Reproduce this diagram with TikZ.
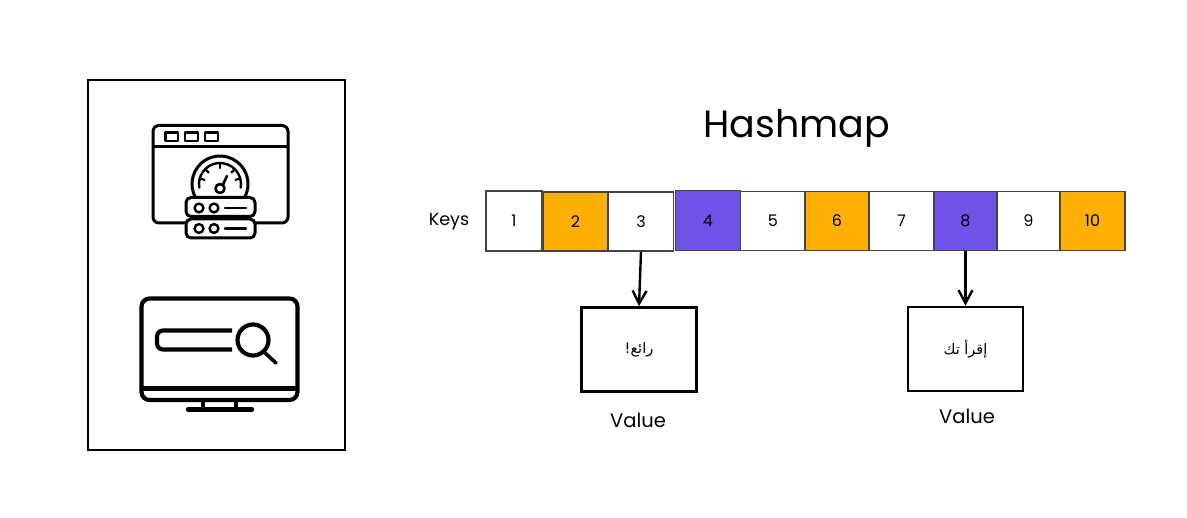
\documentclass[tikz,border=0pt]{standalone}
\usepackage{fontspec}
\setmainfont{Poppins}
\newfontfamily\arabicfont[Script=Arabic]{DejaVu Sans}
\TeXXeTstate=1
\usetikzlibrary{arrows.meta}
\definecolor{amber}{HTML}{FFB006}
\definecolor{violet}{HTML}{7152E8}
\definecolor{cellline}{HTML}{444444}
\tikzset{
  cellbox/.style={draw=cellline,line width=1.3pt,inner sep=0pt,font=\fontsize{16}{18}\selectfont,text=black},
  valbox/.style={draw=black,line width=2.6pt,inner sep=0pt,minimum width=115pt,minimum height=84pt,font=\fontsize{14.5}{16}\selectfont},
  hand/.style={inner sep=0pt,text=black},
  pointer/.style={draw=black,line width=2.4pt,-{Straight Barb[length=13pt,width=14pt,line width=2.4pt]}},
  icon/.style={draw=black,line width=3pt,line cap=round,line join=round},
  iconthick/.style={draw=black,line width=4.2pt,line cap=round,line join=round},
  frame/.style={draw=black,line width=1.6pt,inner sep=0pt,minimum width=257pt,minimum height=370pt}
}
\begin{document}
\begin{tikzpicture}[x=1pt,y=-1pt]
\useasboundingbox (0,0) rectangle (1187,518);

\node[frame] (panel) at (216.5,265) {};

% window with gauge
\draw[icon,rounded corners=6pt] (153,125.5) rectangle (288,223);
\draw[icon] (153,147) -- (288,147);
\draw[icon,line width=2.6pt] (165.5,132.5) rectangle (178,141);
\draw[icon,line width=2.6pt] (185,132.5) rectangle (198,141);
\draw[icon,line width=2.6pt] (205,132.5) rectangle (218,141);
% gauge
\fill[white] (220,184) circle (28);
\draw[icon] (220,184) ++(150:28) arc[start angle=150,end angle=390,radius=28];
\draw[icon,line width=2.4pt] (220,184) ++(170:21) arc[start angle=170,end angle=370,radius=21];
\foreach \a in {195,225,270,315,345}{
  \draw[icon,line width=2.2pt] (220,184) ++(\a:21) -- ++(\a:-5);
}
\draw[icon,line width=2.6pt] (220,188.5) circle (4.5);
\draw[icon,line width=2.6pt] (223,184.5) -- (227,176);
% servers
\draw[icon,fill=white,rounded corners=5pt] (186,197.5) rectangle (255,216.5);
\draw[icon,fill=white,rounded corners=5pt] (186,219) rectangle (255,238);
\draw[icon,line width=2.4pt] (199,208) circle (4.4);
\draw[icon,line width=2.4pt] (214,208) circle (4.4);
\draw[icon,line width=2.4pt] (225,208) -- (246,208);
\draw[icon,line width=2.4pt] (199,228.5) circle (4.4);
\draw[icon,line width=2.4pt] (214,228.5) circle (4.4);
\draw[icon,line width=2.4pt] (225,228.5) -- (246,228.5);

% monitor with search
\draw[iconthick,rounded corners=8pt] (141.5,298.5) rectangle (297.5,400);
\draw[iconthick,line cap=butt,line width=5pt] (141.5,389) -- (297.5,389);
\draw[iconthick,line cap=butt] (203,400) -- (203,409);
\draw[iconthick,line cap=butt] (236,400) -- (236,409);
\draw[iconthick] (188,409.5) -- (252,409.5);
\draw[iconthick,line cap=butt,rounded corners=6pt] (232,330.5) -- (157,330.5) -- (157,349.5) -- (232,349.5);
\draw[iconthick] (253,340) circle (15.5);
\draw[iconthick,line width=3.6pt] (264,352) -- (276,363);

% title and keys
\node[hand,font=\fontsize{38}{44}\selectfont] (title) at (797,128) {Hashmap};
\node[hand,font=\fontsize{17.5}{20}\selectfont] (keys) at (449,222) {Keys};

% cells
\node[cellbox,fill=white,minimum width=56pt,minimum height=60pt] (c1) at (514,221) {1};
\node[cellbox,fill=amber,minimum width=65pt,minimum height=59pt] (c2) at (575.5,221.5) {2};
\node[cellbox,fill=white,minimum width=65pt,minimum height=59pt] (c3) at (641,221.5) {3};
\node[cellbox,fill=violet,minimum width=65pt,minimum height=60pt] (c4) at (708,220.5) {4};
\node[cellbox,fill=white,minimum width=65pt,minimum height=59pt] (c5) at (773,221) {5};
\node[cellbox,fill=amber,minimum width=64pt,minimum height=59pt] (c6) at (837,221) {6};
\node[cellbox,fill=white,minimum width=65pt,minimum height=59pt] (c7) at (901.5,221) {7};
\node[cellbox,fill=violet,minimum width=63pt,minimum height=59pt] (c8) at (965.5,221) {8};
\node[cellbox,fill=white,minimum width=63pt,minimum height=59pt] (c9) at (1028.5,221) {9};
\node[cellbox,fill=amber,minimum width=65pt,minimum height=59pt] (c10) at (1092.5,221) {10};

% values
\node[valbox] (v1) at (639,349.5) {\arabicfont\beginR رائع!\endR};
\node[valbox] (v2) at (965.5,349) {\arabicfont\beginR إقرأ تك\endR};
\node[hand,font=\fontsize{19.5}{22}\selectfont] (l1) at (638,420) {Value};
\node[hand,font=\fontsize{19.5}{22}\selectfont] (l2) at (967,416) {Value};

\draw[pointer] (c3.south) -- (v1.north);
\draw[pointer] (c8.south) -- (v2.north);
\end{tikzpicture}
\end{document}
